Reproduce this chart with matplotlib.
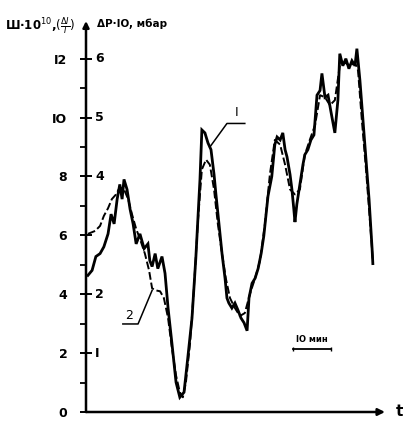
import matplotlib
matplotlib.use("Agg")
import matplotlib.pyplot as plt

# ---------------------------------------------------------------------------
# Dane (czas w minutach, wartości w jednostkach lewej osi)
# ---------------------------------------------------------------------------
t1 = [0.5, 1.6, 2.6, 3.7, 4.7, 5.8, 6.6, 7.4, 8.2, 8.9, 9.5, 10.0, 10.8, 11.6,
      12.4, 13.2, 14.2, 15.3, 16.3, 16.8, 17.4, 18.2, 18.9, 20.0, 20.8, 21.6,
      22.6, 23.7, 24.7, 25.8, 26.8, 27.9, 28.9, 30.0, 30.5, 31.3, 32.1, 32.9,
      33.7, 34.2, 35.0, 35.8, 36.6, 37.1, 37.6, 38.4, 39.2, 40.0, 40.8, 41.6,
      42.4, 42.9, 43.7, 44.5, 45.3, 46.1, 46.8, 47.9, 48.9, 49.7, 50.3, 51.1,
      51.8, 52.4, 52.9, 53.7, 54.2, 54.7, 55.0, 55.5, 56.3, 57.1, 57.6, 58.4,
      59.2, 60.0, 60.8, 61.6, 62.1, 62.9, 63.7, 64.5, 65.5, 66.3, 66.8, 67.6,
      68.4, 69.2, 70.0, 70.8, 71.3, 72.1, 72.9, 73.7, 74.5, 75.3, 75.5]
y1 = [4.64, 4.81, 5.28, 5.38, 5.61, 6.05, 6.72, 6.39, 7.23, 7.73, 7.23, 7.90,
      7.56, 6.89, 6.39, 5.71, 6.05, 5.55, 5.71, 5.14, 4.94, 5.38, 4.87, 5.28,
      4.71, 3.53, 2.35, 1.01, 0.50, 0.67, 1.85, 3.19, 5.21, 7.90, 9.58, 9.48,
      9.14, 8.91, 8.07, 7.39, 6.39, 5.38, 4.54, 3.87, 3.70, 3.53, 3.70, 3.46,
      3.19, 3.03, 2.76, 3.87, 4.37, 4.54, 4.87, 5.38, 5.98, 7.33, 8.00, 9.08,
      9.34, 9.24, 9.48, 8.91, 8.67, 8.07, 7.56, 6.89, 6.45, 7.06, 7.73, 8.40,
      8.74, 8.91, 9.24, 9.41, 10.76, 10.92, 11.50, 10.69, 10.76, 10.18, 9.48,
      10.59, 12.17, 11.76, 12.00, 11.66, 11.93, 11.76, 12.34, 11.26, 9.92,
      8.57, 7.23, 5.55, 5.04]

t2 = [0.5, 2.4, 3.7, 4.7, 5.8, 6.8, 7.9, 8.9, 10.0, 11.1, 12.1, 13.2, 14.2,
      15.5, 16.6, 17.4, 18.4, 19.5, 20.5, 21.6, 22.6, 23.7, 24.7, 25.5, 26.3,
      27.4, 28.4, 29.5, 30.5, 31.6, 32.6, 33.7, 34.7, 35.8, 36.8, 37.9, 39.2,
      40.5, 41.8, 43.2, 44.5, 45.8, 47.1, 48.4, 49.7, 51.1, 52.4, 53.7, 55.0,
      56.3, 57.6, 58.9, 60.3, 61.6, 62.9, 64.2, 65.5, 66.8, 68.2, 69.5, 70.8,
      71.6, 72.6, 73.7, 74.7, 75.5]
y2 = [6.05, 6.15, 6.32, 6.66, 6.92, 7.23, 7.39, 7.63, 7.56, 7.23, 6.72, 6.22,
      5.88, 5.38, 4.81, 4.20, 4.13, 4.10, 3.87, 3.19, 2.18, 1.24, 0.67, 0.50,
      1.01, 2.35, 4.20, 6.55, 8.24, 8.57, 8.40, 7.56, 6.39, 5.38, 4.54, 3.87,
      3.53, 3.26, 3.36, 4.03, 4.54, 5.14, 6.39, 8.07, 9.24, 9.08, 8.40, 7.56,
      7.39, 7.56, 8.74, 9.24, 9.75, 10.76, 10.69, 10.42, 10.59, 11.76, 11.86,
      11.76, 11.86, 11.60, 9.92, 8.24, 6.55, 5.14]

left_ticks = [0, 2, 4, 6, 8, 10, 12]
left_labels = ["0", "2", "4", "6", "8", "IO", "I2"]
right_ticks = [2, 4, 8, 10, 12]
right_labels = ["I", "2", "4", "5", "6"]
minor_ticks = [1, 3, 5, 7, 9, 11]

T_MAX = 78.7
Y_MAX = 13.28

# ---------------------------------------------------------------------------
# Wykres
# ---------------------------------------------------------------------------
W, H = 403, 421
fig = plt.figure(figsize=(W / 100, H / 100), dpi=100)
ax = fig.add_axes([86 / W, 9 / H, 299 / W, 391 / H])
ax.set_xlim(0, T_MAX)
ax.set_ylim(0, Y_MAX)

for s in ax.spines.values():
    s.set_visible(False)

# osie ze strzałkami
ax.annotate("", xy=(0, 1.0), xytext=(0, 0), xycoords="axes fraction",
            arrowprops=dict(arrowstyle="-|>", color="black", lw=1.8,
                            mutation_scale=9, shrinkA=0, shrinkB=0))
ax.annotate("", xy=(1.0, 0), xytext=(0, 0), xycoords="axes fraction",
            arrowprops=dict(arrowstyle="-|>", color="black", lw=1.8,
                            mutation_scale=10, shrinkA=0, shrinkB=0))
ax.text(1.035, 0.0, "t", transform=ax.transAxes, ha="left", va="center",
        fontsize=11, fontweight="bold")

ax.set_xticks([])
ax.set_yticks(left_ticks)
ax.set_yticklabels(left_labels, fontsize=9, fontweight="bold")
ax.set_yticks(minor_ticks, minor=True)
ax.tick_params(axis="y", which="major", direction="inout", length=9,
               width=1.4, pad=9)
ax.tick_params(axis="y", which="minor", direction="out", length=4, width=1.3)

for v, lab in zip(right_ticks, right_labels):
    ax.text(2.4, v, lab, ha="left", va="center", fontsize=9,
            fontweight="bold")

# krzywe
ax.plot(t1, y1, color="black", lw=2.0, solid_joinstyle="miter")
ax.plot(t2, y2, color="black", lw=1.4, ls=(0, (4, 1.5)))

# oznaczenia krzywych
ax.plot([32.6, 37.1, 41.8], [9.0, 9.8, 9.8], color="black", lw=1.1)
ax.text(39.6, 9.95, "I", ha="center", va="bottom", fontsize=9)
ax.plot([17.4, 13.7, 9.7], [4.13, 2.99, 2.99], color="black", lw=1.1)
ax.text(11.3, 3.05, "2", ha="center", va="bottom", fontsize=9)

# skala czasu
ax.plot([54.5, 64.5], [2.15, 2.15], color="black", lw=1.3, marker="|",
        markersize=3)
ax.text(59.5, 2.3, "IO мин", ha="center", va="bottom", fontsize=6,
        fontweight="bold")

# opisy osi
fig.text(5 / W, 1 - 30 / H, "Ш·10$^{10}$,$(\\frac{\\Delta I}{I})$", ha="left",
         va="baseline", fontsize=8.5, fontweight="bold")
fig.text(97 / W, 1 - 27 / H, "ΔP·IO, мбар", ha="left", va="baseline",
         fontsize=7.5, fontweight="bold")

fig.savefig("out.png", dpi=100)
